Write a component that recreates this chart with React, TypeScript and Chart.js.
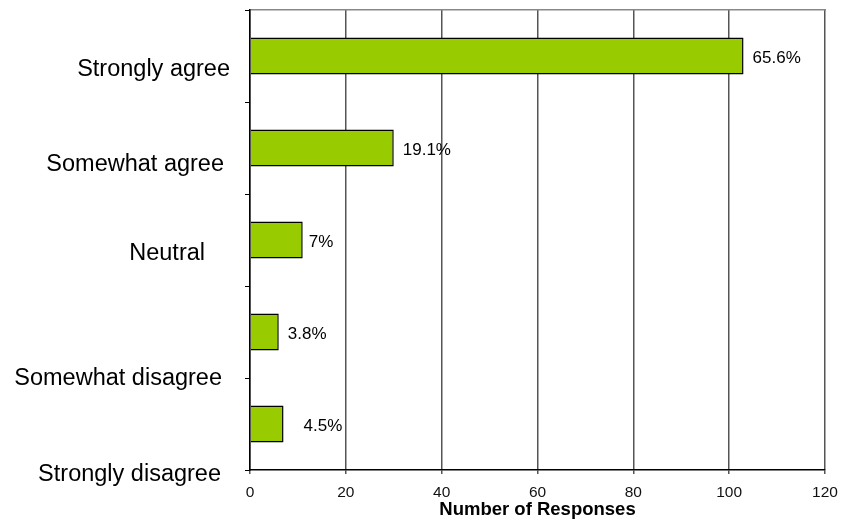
import React, { useEffect, useRef } from "react";
import { Chart, registerables } from "chart.js";

Chart.register(...registerables);

const categories = ["Strongly agree", "Somewhat agree", "Neutral", "Somewhat disagree", "Strongly disagree"];
const responses = [103, 30, 11, 6, 7];
const percentLabels = ["65.6%", "19.1%", "7%", "3.8%", "4.5%"];
const xTicks = [0, 20, 40, 60, 80, 100, 120];

// label placement tweaks (layout only)
const catLabelDy = [14, 17, 14, 47, 51];
const catLabelRight = [230, 224, 205, 222, 221];
const pctLabelDx = [9, 9, 6, 9, 20];

const FONT = "'Liberation Sans', Arial, sans-serif";

const labelPlugin = {
  id: "customLabels",
  afterDraw(chart: any) {
    const ctx = chart.ctx;
    const y = chart.scales.y;
    const x = chart.scales.x;
    ctx.save();
    ctx.fillStyle = "#000";
    ctx.textBaseline = "middle";
    ctx.font = `23.5px ${FONT}`;
    ctx.textAlign = "right";
    categories.forEach((c, i) => {
      ctx.fillText(c, catLabelRight[i], y.getPixelForValue(i) + catLabelDy[i]);
    });
    ctx.font = `17px ${FONT}`;
    ctx.textAlign = "left";
    percentLabels.forEach((p, i) => {
      ctx.fillText(p, x.getPixelForValue(responses[i]) + pctLabelDx[i], y.getPixelForValue(i) + 2);
    });
    ctx.restore();
  },
};

export default function App() {
  const ref = useRef<HTMLCanvasElement>(null);
  useEffect(() => {
    document.body.style.margin = "0";
    const chart = new Chart(ref.current!, {
      type: "bar",
      data: {
        labels: categories,
        datasets: [
          {
            data: responses,
            backgroundColor: "#99CC00",
            borderColor: "#000000",
            borderWidth: 1.5,
            barPercentage: 0.4,
            categoryPercentage: 1,
          },
        ],
      },
      options: {
        indexAxis: "y",
        animation: false,
        responsive: false,
        layout: { padding: { top: 10, right: 19, left: 0, bottom: 0 } },
        plugins: { legend: { display: false }, tooltip: { enabled: false } },
        scales: {
          x: {
            min: 0,
            max: 120,
            afterBuildTicks: (s: any) => {
              s.ticks = xTicks.map((v) => ({ value: v }));
            },
            grid: { color: "#555", lineWidth: 1.5, drawTicks: true, tickLength: 4 },
            border: { color: "#000", width: 1.5 },
            ticks: { color: "#111", font: { family: FONT, size: 15.5 }, padding: 9, maxRotation: 0 },
            title: {
              display: true,
              text: "Number of Responses",
              color: "#000",
              font: { family: FONT, size: 18.5, weight: "bold", lineHeight: 1 },
              padding: { top: 0, bottom: 0 },
            },
            afterFit: (s: any) => {
              s.height = 49;
              s.paddingLeft = 0;
              s.paddingRight = 0;
            },
          },
          x2: {
            position: "top",
            min: 0,
            max: 120,
            grid: { display: false, drawTicks: false },
            border: { display: true, color: "#888", width: 1.5 },
            ticks: { display: false },
            afterFit: (s: any) => {
              s.height = 0;
              s.paddingLeft = 0;
              s.paddingRight = 0;
            },
          },
          y: {
            grid: { offset: true, drawOnChartArea: false, drawTicks: true, tickLength: 5, color: "#000" },
            border: { color: "#000", width: 1.5 },
            ticks: { display: false },
            afterFit: (s: any) => {
              s.width = 250;
            },
          },
        },
      },
      plugins: [labelPlugin],
    } as any);
    return () => chart.destroy();
  }, []);
  return <canvas ref={ref} width={844} height={519} style={{ display: "block" }} />;
}
